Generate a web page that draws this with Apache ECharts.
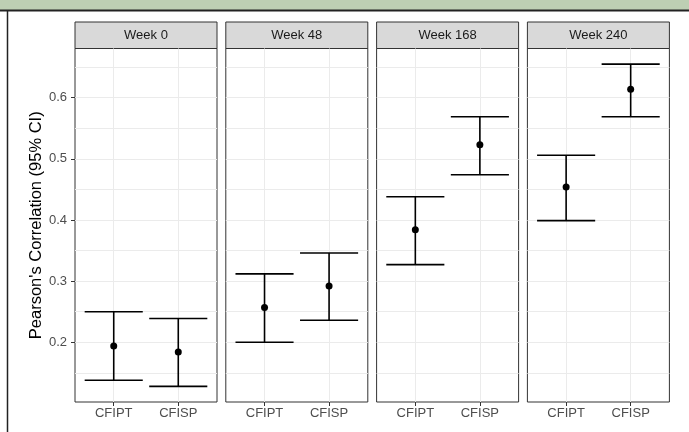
<!DOCTYPE html>
<html>
<head>
<meta charset="utf-8">
<script src="https://cdn.jsdelivr.net/npm/echarts@6/dist/echarts.min.js"></script>
<style>
  html, body { margin: 0; padding: 0; background: #fff; }
  #chart { width: 689px; height: 432px; }
</style>
</head>
<body>
<div id="chart"></div>
<script>
// panels and groups
var weeks = ['Week 0', 'Week 48', 'Week 168', 'Week 240'];
var groups = ['CFIPT', 'CFISP'];

// Pearson's correlation estimate and 95% CI, per week
var cfiptEst = [0.194, 0.257, 0.384, 0.454];
var cfiptLow = [0.138, 0.200, 0.327, 0.399];
var cfiptHigh = [0.250, 0.312, 0.438, 0.506];

var cfispEst = [0.184, 0.292, 0.523, 0.614];
var cfispLow = [0.128, 0.236, 0.474, 0.569];
var cfispHigh = [0.239, 0.346, 0.569, 0.655];

// y axis ticks
var yMajor = [0.2, 0.3, 0.4, 0.5, 0.6];
var yGrid = [0.15, 0.2, 0.25, 0.3, 0.35, 0.4, 0.45, 0.5, 0.55, 0.6, 0.65];

/* layout ------------------------------------------------ */
var panelLeft = 75, panelStep = 150.8, panelW = 142;
var stripTop = 22, plotTop = 48.5, plotBottom = 402;
var yMin = 0.1024, yMax = 0.6805;
var capWidth = 0.9;

var chart = echarts.init(document.getElementById('chart'));

function errorBar(params, api) {
  var x = api.value(0), lo = api.value(1), hi = api.value(2);
  var top = api.coord([x, hi]);
  var bot = api.coord([x, lo]);
  var half = api.size([capWidth, 0])[0] / 2;
  var style = { stroke: '#000', lineWidth: 1.6 };
  return {
    type: 'group',
    children: [
      { type: 'line', shape: { x1: top[0], y1: top[1], x2: bot[0], y2: bot[1] }, style: style },
      { type: 'line', shape: { x1: top[0] - half, y1: top[1], x2: top[0] + half, y2: top[1] }, style: style },
      { type: 'line', shape: { x1: bot[0] - half, y1: bot[1], x2: bot[0] + half, y2: bot[1] }, style: style }
    ]
  };
}

var grids = [], xAxes = [], yAxes = [], series = [], graphics = [];

// outer frame pieces
graphics.push({ type: 'rect', shape: { x: 0, y: 0, width: 689, height: 10 }, style: { fill: '#bdcfb3' }, silent: true });
graphics.push({ type: 'line', shape: { x1: 0, y1: 10.5, x2: 689, y2: 10.5 }, style: { stroke: '#222', lineWidth: 2 }, silent: true });
graphics.push({ type: 'line', shape: { x1: 7.5, y1: 10, x2: 7.5, y2: 432 }, style: { stroke: '#222', lineWidth: 1.5 }, silent: true });

weeks.forEach(function (wk, i) {
  var left = panelLeft + i * panelStep;
  grids.push({
    left: left, top: plotTop, width: panelW, height: plotBottom - plotTop,
    show: true, borderColor: '#333', borderWidth: 1, backgroundColor: '#fff',
    containLabel: false, outerBoundsMode: 'none'
  });
  xAxes.push({
    type: 'value', gridIndex: i, min: 0.4, max: 2.6,
    axisLine: { show: false },
    axisTick: { show: true, length: 4, customValues: [1, 2], lineStyle: { color: '#333', width: 1 } },
    axisLabel: {
      customValues: [1, 2], margin: 5, color: '#4d4d4d', fontSize: 13,
      fontFamily: 'Liberation Sans, Arial, sans-serif',
      formatter: function (v) { return groups[Math.round(v) - 1] || ''; }
    },
    splitLine: { show: true, lineStyle: { color: '#ebebeb', width: 1 } }
  });
  yAxes.push({
    type: 'value', gridIndex: i, min: yMin, max: yMax,
    axisLine: { show: false },
    axisTick: { show: false, customValues: yGrid },
    axisLabel: { show: false, customValues: yGrid },
    splitLine: { show: true, lineStyle: { color: '#ebebeb', width: 1 } }
  });
  series.push({
    type: 'custom', xAxisIndex: i, yAxisIndex: i,
    renderItem: errorBar,
    data: [[1, cfiptLow[i], cfiptHigh[i]], [2, cfispLow[i], cfispHigh[i]]],
    z: 3
  });
  series.push({
    type: 'scatter', xAxisIndex: i, yAxisIndex: i,
    symbol: 'circle', symbolSize: 7,
    itemStyle: { color: '#000', opacity: 1 },
    data: [[1, cfiptEst[i]], [2, cfispEst[i]]],
    z: 4
  });
  // facet strip
  graphics.push({
    type: 'rect',
    shape: { x: left, y: stripTop, width: panelW, height: plotTop - stripTop },
    style: { fill: '#d9d9d9', stroke: '#333', lineWidth: 1 },
    silent: true
  });
  graphics.push({
    type: 'text',
    x: left + panelW / 2, y: (stripTop + plotTop) / 2,
    style: {
      text: wk, fill: '#1a1a1a', fontSize: 13,
      fontFamily: 'Liberation Sans, Arial, sans-serif',
      align: 'center', verticalAlign: 'middle'
    },
    silent: true
  });
});

// left axis: ticks, labels and title on the first panel
yAxes.push({
  type: 'value', gridIndex: 0, min: yMin, max: yMax, position: 'left',
  name: "Pearson's Correlation (95% CI)",
  nameLocation: 'middle', nameGap: 30,
  nameTextStyle: { color: '#000', fontSize: 16.5, fontFamily: 'Liberation Sans, Arial, sans-serif' },
  axisLine: { show: false },
  axisTick: { show: true, length: 4, customValues: yMajor, lineStyle: { color: '#333', width: 1 } },
  axisLabel: {
    customValues: yMajor, margin: 8, color: '#4d4d4d', fontSize: 13,
    fontFamily: 'Liberation Sans, Arial, sans-serif',
    formatter: function (v) { return v.toFixed(1); }
  },
  splitLine: { show: false }
});

chart.setOption({
  animation: false,
  backgroundColor: '#fff',
  grid: grids,
  xAxis: xAxes,
  yAxis: yAxes,
  series: series,
  graphic: graphics
});
</script>
</body>
</html>
